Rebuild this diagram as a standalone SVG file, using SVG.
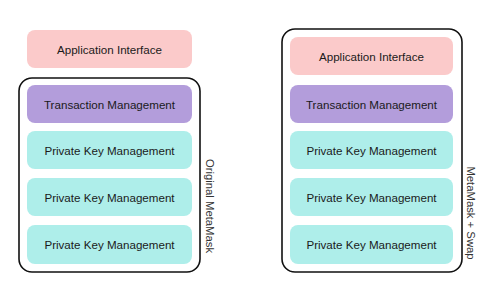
<svg xmlns="http://www.w3.org/2000/svg" width="500" height="300" viewBox="0 0 500 300">
<style>
.cont{fill:#fff;stroke:#111;stroke-width:1.6}
.pink{fill:#fbcaca}
.purple{fill:#b39ddb}
.cyan{fill:#aeeeea}
.t{font-family:"Liberation Sans",Arial,sans-serif;font-size:11.6px;fill:#1a1a1a;text-anchor:middle;dominant-baseline:central}
.v{font-family:"Liberation Sans",Arial,sans-serif;font-size:11.3px;fill:#333;text-anchor:middle;dominant-baseline:central}
</style>
<rect width="500" height="300" fill="#fff"/>
<g id="left-stack">
  <g id="left-app"><rect class="pink" x="27" y="30" width="165" height="38" rx="8"/><text class="t" x="109.5" y="49">Application Interface</text></g>
  <g id="left-container"><rect class="cont" x="19" y="78" width="181" height="194" rx="13"/></g>
  <g id="left-tx"><rect class="purple" x="27" y="85" width="165" height="38" rx="8"/><text class="t" x="109.5" y="104">Transaction Management</text></g>
  <g id="left-pk1"><rect class="cyan" x="27" y="131" width="165" height="38" rx="8"/><text class="t" x="109.5" y="150">Private Key Management</text></g>
  <g id="left-pk2"><rect class="cyan" x="27" y="178" width="165" height="38" rx="8"/><text class="t" x="109.5" y="197">Private Key Management</text></g>
  <g id="left-pk3"><rect class="cyan" x="27" y="225" width="165" height="39" rx="8"/><text class="t" x="109.5" y="244">Private Key Management</text></g>
  <g id="left-label"><text class="v" transform="translate(210,206) rotate(90)">Original MetaMask</text></g>
</g>
<g id="right-stack">
  <g id="right-container"><rect class="cont" x="282" y="29" width="180" height="243" rx="13"/></g>
  <g id="right-app"><rect class="pink" x="290" y="37" width="163" height="38" rx="8"/><text class="t" x="371.5" y="56">Application Interface</text></g>
  <g id="right-tx"><rect class="purple" x="290" y="85" width="163" height="38" rx="8"/><text class="t" x="371.5" y="104">Transaction Management</text></g>
  <g id="right-pk1"><rect class="cyan" x="290" y="131" width="163" height="38" rx="8"/><text class="t" x="371.5" y="150">Private Key Management</text></g>
  <g id="right-pk2"><rect class="cyan" x="290" y="178" width="163" height="38" rx="8"/><text class="t" x="371.5" y="197">Private Key Management</text></g>
  <g id="right-pk3"><rect class="cyan" x="290" y="225" width="163" height="39" rx="8"/><text class="t" x="371.5" y="244">Private Key Management</text></g>
  <g id="right-label"><text class="v" transform="translate(471,213) rotate(90)">MetaMask + Swap</text></g>
</g>
<g id="connectors"></g>
</svg>
